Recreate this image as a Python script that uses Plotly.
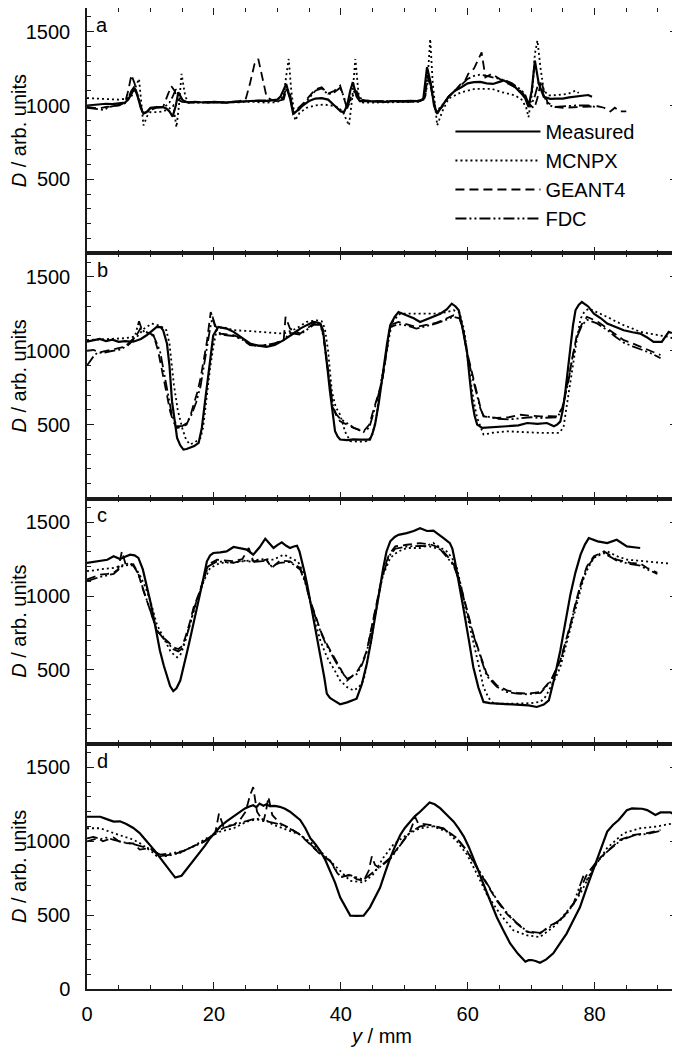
import plotly.graph_objects as go
from plotly.subplots import make_subplots

# ---------------- panel a ----------------
a_meas_x = [0, 1, 2, 3, 4, 5, 6, 6.5, 7.0, 7.5,
            8.0, 8.5, 8.9, 9.5, 10, 11, 12, 12.5, 13, 13.5,
            14.0, 14.4, 15, 15.5, 16, 17, 18, 19, 20, 21,
            22, 23, 24, 25, 26, 27, 28, 29, 30, 30.5,
            31, 31.4, 32, 32.5, 33, 34, 35, 36, 37, 38,
            39, 40, 40.5, 41, 41.5, 41.9, 42.5, 43, 44, 45,
            46, 47, 48, 49, 50, 51, 52, 53, 53.6, 54.2,
            54.7, 55.2, 56, 57, 58, 59, 60, 61, 62, 63,
            64, 65, 65.7, 66.5, 67.5, 68.5, 69.1, 69.6, 70.1, 70.6,
            71.2, 72, 73, 74, 75, 76, 77, 78, 79, 79.6]
a_meas_d = [1000, 1005, 1010, 1012, 1010, 1015, 1020, 1040, 1080, 1117,
            1060, 980, 944, 960, 985, 990, 988, 980, 960, 925,
            1000, 1090, 1040, 1025, 1020, 1025, 1022, 1020, 1025, 1022,
            1020, 1025, 1028, 1030, 1035, 1033, 1030, 1035, 1040, 1060,
            1110, 1146, 1050, 944, 960, 1000, 1030, 1047, 1050, 1040,
            1000, 960, 955, 1000, 1100, 1158, 1060, 1030, 1030, 1028,
            1030, 1025, 1030, 1028, 1030, 1032, 1030, 1040, 1259, 1150,
            1000, 944, 1000, 1060, 1100, 1124, 1150, 1158, 1160, 1150,
            1146, 1160, 1170, 1150, 1124, 1080, 1047, 989, 1100, 1304,
            1150, 1059, 1045, 1047, 1047, 1055, 1059, 1065, 1071, 1060]

a_mcnpx_x = [0, 1, 2, 3, 4, 5, 6, 7, 7.6, 8.2,
             8.6, 8.9, 9.5, 10, 11, 12, 13, 13.6, 14.1, 14.5,
             14.9, 15.5, 16, 17, 18, 20, 22, 24, 26, 28,
             30, 31, 31.4, 31.8, 32.2, 32.8, 33.5, 34.6, 36, 37.3,
             38.5, 39.5, 40.3, 41.3, 41.8, 42.3, 42.8, 43.5, 45, 47,
             49, 51, 52.5, 53.3, 53.8, 54.1, 54.5, 55.2, 56, 57,
             58, 59, 60, 61.2, 62.5, 63.8, 65.4, 66.5, 67.5, 68.5,
             69.2, 69.6, 70.2, 70.6, 71.0, 71.5, 72.0, 72.8, 74, 75.9,
             77.0, 77.5]
a_mcnpx_d = [1050, 1048, 1045, 1040, 1040, 1040, 1045, 1060, 1120, 1180,
             1000, 865, 930, 955, 955, 960, 980, 1000, 853, 1000,
             1214, 1060, 1020, 1018, 1020, 1022, 1020, 1022, 1025, 1020,
             1022, 1060, 1200, 1315, 1100, 899, 950, 984, 1000, 1007,
             1000, 990, 960, 865, 1050, 1315, 1080, 1020, 1020, 1022,
             1020, 1022, 1025, 1060, 1250, 1450, 1150, 865, 960, 1047,
             1070, 1090, 1100, 1113, 1113, 1113, 1090, 1080, 1068, 1040,
             990, 921, 1100, 1350, 1440, 1250, 1100, 1068, 1070, 1080,
             1101, 1085]

a_geant_x = [0, 1, 2, 3, 4, 5, 6, 6.5, 7.0, 7.5,
             8.0, 8.5, 8.9, 9.5, 10, 11, 12, 12.8, 13.3, 13.8,
             14.3, 15, 16, 18, 20, 22, 24, 25.0, 25.7, 26.4,
             27.0, 27.6, 28.3, 29, 30, 31, 31.4, 32, 32.5, 33,
             34, 35, 36, 37, 38, 39, 39.9, 40.5, 41, 41.6,
             42.2, 43, 45, 47, 49, 51, 52.5, 53.2, 53.7, 54.2,
             55.0, 56, 57, 58, 59, 59.6, 60.1, 61, 61.6, 62.2,
             62.8, 63.8, 65.4, 67.5, 68.6, 69.9, 70.5, 71.0, 71.6, 72.0,
             72.6, 73.8, 75, 77, 79, 80.5, 81.5, 82.5, 83.2, 84,
             85.0]
a_geant_d = [990, 985, 980, 990, 995, 1000, 1020, 1100, 1207, 1150,
             1060, 980, 935, 960, 980, 985, 990, 1080, 1130, 1100,
             1040, 1025, 1020, 1025, 1022, 1020, 1030, 1040, 1150, 1280,
             1315, 1200, 1060, 1040, 1030, 1060, 1120, 1050, 960, 970,
             1010, 1060, 1110, 1124, 1080, 1100, 1135, 1050, 980, 1060,
             1100, 1040, 1030, 1028, 1030, 1025, 1030, 1050, 1200, 1120,
             950, 990, 1060, 1100, 1150, 1169, 1214, 1250, 1300, 1360,
             1191, 1214, 1169, 1124, 1090, 1000, 980, 1050, 1169, 1100,
             1020, 990, 985, 990, 995, 995, 985, 960, 985, 960,
             960]

a_fdc_x = [0, 1, 2, 2.7, 3.5, 4, 5, 6, 6.5, 7.0,
           7.5, 8.0, 8.5, 9, 9.5, 10, 11, 12, 12.5, 13,
           13.5, 14.0, 14.5, 15, 16, 18, 20, 22, 24, 26,
           28, 30, 31, 31.5, 32, 32.5, 33, 34, 35, 36,
           37, 38, 39, 39.9, 40.5, 41, 41.8, 42.5, 43, 45,
           47, 49, 51, 52.5, 53.3, 53.8, 54.3, 55.0, 56, 57,
           58, 59, 60, 61, 62, 63, 64, 65, 66, 67,
           68, 69, 69.8, 70.5, 71.2, 72, 72.6, 73.5, 75, 77,
           79, 80.2]
a_fdc_d = [985, 980, 975, 970, 990, 995, 1000, 1015, 1050, 1100,
           1130, 1070, 990, 950, 955, 970, 985, 990, 1000, 1020,
           1060, 1110, 1070, 1035, 1022, 1020, 1022, 1020, 1025, 1030,
           1035, 1030, 1040, 1120, 1080, 960, 950, 1000, 1050, 1100,
           1115, 1075, 1090, 1120, 1060, 980, 1060, 1100, 1040, 1028,
           1030, 1025, 1030, 1028, 1060, 1180, 1120, 960, 1000, 1060,
           1100, 1140, 1180, 1200, 1210, 1200, 1190, 1180, 1170, 1150,
           1120, 1080, 990, 1050, 1160, 1070, 1010, 990, 995, 1000,
           1000, 990]

# ---------------- panel b ----------------
b_meas_x = [0, 1, 2, 3, 4, 5, 6, 7.3, 8.5, 9.4,
            10.2, 11.0, 11.6, 12.0, 12.6, 13.0, 13.4, 13.8, 14.2, 14.7,
            15.2, 15.7, 16.2, 16.9, 17.6, 18.1, 18.5, 18.9, 19.4, 19.9,
            20.7, 22, 23.1, 24.4, 25.7, 27, 28.3, 29.6, 31.0, 32.3,
            33.6, 34.7, 35.7, 36.3, 36.8, 37.2, 37.5, 37.9, 38.3, 38.7,
            39.1, 39.5, 39.9, 41, 42, 43, 44.6, 45.0, 45.4, 46.0,
            46.7, 47.3, 47.8, 48.5, 49.1, 50.4, 51.5, 52.5, 54, 55.7,
            56.7, 57.5, 58.1, 58.6, 59.2, 59.9, 60.3, 60.7, 61.1, 61.5,
            62.3, 64, 66.2, 68, 69.4, 71, 72.5, 73.6, 74.1, 74.6,
            75.0, 75.4, 75.8, 76.2, 76.6, 77.0, 77.5, 78.0, 79.0, 79.9,
            81, 82.0, 83.3, 84.6, 86, 87.2, 88.3, 89.3, 90.6, 91.7,
            92.2]
b_meas_d = [1061, 1070, 1080, 1065, 1075, 1060, 1065, 1061, 1080, 1105,
            1130, 1161, 1160, 1139, 1050, 900, 657, 520, 410, 360,
            331, 335, 343, 355, 377, 478, 620, 769, 950, 1105,
            1161, 1150, 1128, 1090, 1049, 1035, 1027, 1040, 1072, 1110,
            1150, 1175, 1195, 1190, 1184, 1140, 1038, 880, 724, 580,
            455, 420, 399, 395, 400, 398, 399, 440, 500, 650,
            881, 1050, 1173, 1230, 1262, 1240, 1220, 1195, 1220, 1251,
            1280, 1319, 1300, 1274, 1150, 993, 820, 657, 560, 500,
            478, 485, 489, 495, 511, 505, 511, 489, 500, 520,
            600, 724, 880, 1038, 1170, 1274, 1310, 1330, 1300, 1251,
            1220, 1184, 1160, 1139, 1125, 1116, 1090, 1060, 1060, 1128,
            1120]

b_mcnpx_x = [0, 2, 4, 6, 8, 9, 10.2, 11.5, 12.5, 13.0,
             13.7, 14.3, 15.0, 15.6, 16.2, 17.0, 17.9, 18.3, 18.6, 19.0,
             19.4, 20.0, 20.5, 21.5, 23.1, 25, 27.3, 29, 31.0, 33,
             34.6, 36.2, 37.0, 37.5, 38.0, 38.6, 39.2, 39.9, 40.7, 41.5,
             43, 44.1, 44.9, 45.6, 46.4, 47.2, 47.8, 48.3, 49.4, 51,
             53, 55.1, 56.5, 57.8, 58.7, 59.4, 59.9, 60.4, 61.0, 61.5,
             62.5, 64, 66.2, 68, 70, 71.5, 73, 74.4, 75.1, 75.7,
             76.2, 76.7, 77.3, 77.8, 78.4, 79.1, 80.5, 82.0, 83.3, 84.6,
             86, 87.2, 88.8, 90.4, 91.5, 92.5]
b_mcnpx_d = [1072, 1075, 1080, 1085, 1100, 1150, 1184, 1170, 1140, 1050,
             769, 600, 478, 400, 366, 380, 410, 480, 590, 740,
             881, 1050, 1150, 1160, 1139, 1135, 1128, 1120, 1116, 1150,
             1195, 1206, 1200, 1150, 1000, 724, 620, 567, 450, 388,
             385, 388, 420, 545, 800, 993, 1130, 1206, 1251, 1252,
             1250, 1251, 1260, 1274, 1260, 1150, 1000, 814, 650, 545,
             433, 445, 455, 450, 448, 444, 445, 444, 480, 657,
             800, 948, 1100, 1217, 1265, 1285, 1260, 1229, 1200, 1173,
             1150, 1128, 1115, 1105, 1095, 1083]

b_geant_x = [0, 1, 2, 3, 4, 5, 6.3, 7.5, 8.4, 9.2,
             10.5, 11.2, 12.0, 12.6, 13.1, 13.6, 14.2, 15.0, 15.7, 16.3,
             16.8, 17.4, 17.9, 18.4, 18.9, 19.5, 20.2, 21.0, 22, 23.1,
             24.5, 25.7, 27, 28.3, 29.6, 31.0, 31.3, 32.0, 33.6, 35.7,
             36.8, 37.3, 37.8, 38.3, 38.8, 39.3, 39.9, 41, 42.0, 43.6,
             44.5, 45.1, 45.8, 46.5, 47.2, 47.8, 49.1, 50.5, 51.9, 53.5,
             55.1, 57.8, 58.7, 59.3, 59.9, 60.7, 61.5, 62.0, 62.5, 64.6,
             66.5, 68.3, 70, 71.5, 73, 74.1, 74.9, 75.4, 75.9, 76.5,
             77.2, 78.0, 78.8, 80.4, 82.0, 83.3, 84.6, 86, 87.2, 88.8,
             90.4]
b_geant_d = [1000, 1005, 990, 1000, 1010, 1020, 1030, 1080, 1150, 1130,
             1105, 1000, 814, 700, 590, 520, 478, 485, 500, 560,
             635, 720, 814, 930, 1061, 1262, 1173, 1116, 1110, 1105,
             1080, 1038, 1035, 1038, 1050, 1072, 1229, 1150, 1116, 1184,
             1180, 1100, 926, 780, 612, 560, 522, 500, 478, 455,
             500, 590, 700, 791, 980, 1173, 1195, 1180, 1161, 1175,
             1190, 1240, 1230, 1150, 993, 850, 702, 620, 556, 545,
             550, 567, 560, 556, 558, 556, 612, 700, 814, 960,
             1105, 1180, 1229, 1200, 1150, 1110, 1072, 1050, 1027, 1000,
             971]

b_fdc_x = [0, 0.5, 1, 1.7, 2.5, 3.5, 4.5, 5.5, 6.3, 7.5,
           8.2, 8.6, 9.2, 10.5, 11.5, 12.2, 12.8, 13.4, 14.2, 15.0,
           15.7, 16.5, 17.2, 17.9, 18.4, 18.9, 19.4, 19.8, 20.3, 21.0,
           22, 23.1, 24.5, 25.7, 27, 28.3, 29.6, 31.0, 32.0, 33.6,
           35.7, 36.8, 37.3, 37.8, 38.3, 38.8, 39.3, 39.9, 41, 42.0,
           43.6, 44.5, 45.1, 45.8, 46.5, 47.2, 47.8, 49.1, 50.5, 51.9,
           53.5, 55.1, 57.8, 58.7, 59.3, 59.9, 60.7, 61.5, 62.0, 62.5,
           64.6, 66.5, 68.3, 70, 71.5, 73, 74.1, 74.9, 75.4, 75.9,
           76.5, 77.2, 78.0, 78.8, 80.4, 82.0, 83.3, 84.6, 86, 87.2,
           88.8, 90.4]
b_fdc_d = [900, 930, 960, 990, 985, 995, 1000, 1010, 1040, 1090,
           1200, 1150, 1120, 1100, 1000, 850, 700, 560, 490, 490,
           510, 570, 650, 760, 880, 1020, 1150, 1230, 1140, 1110,
           1105, 1100, 1075, 1040, 1030, 1040, 1050, 1072, 1120, 1110,
           1175, 1175, 1090, 926, 760, 620, 570, 540, 510, 480,
           450, 480, 570, 680, 790, 990, 1160, 1180, 1170, 1150,
           1170, 1185, 1230, 1220, 1140, 980, 830, 690, 610, 560,
           540, 535, 545, 550, 545, 545, 550, 600, 690, 800,
           950, 1090, 1170, 1210, 1185, 1140, 1095, 1055, 1030, 1010,
           985, 950]

# ---------------- panel c ----------------
c_meas_x = [0, 1, 2.1, 3.2, 4.2, 5.2, 6.0, 6.8, 7.5, 8.1,
            8.8, 9.4, 10.0, 10.5, 11.0, 11.5, 12.1, 12.6, 13.1, 13.6,
            14.1, 14.7, 15.2, 15.7, 16.2, 16.8, 17.3, 17.8, 18.4, 18.9,
            19.4, 19.9, 21.0, 22.0, 23.1, 24.2, 25.2, 26.2, 27.2, 28.1,
            28.8, 29.4, 30.0, 30.7, 31.4, 32.0, 32.6, 33.1, 33.5, 33.9,
            34.3, 34.7, 35.2, 35.7, 36.3, 37.0, 37.4, 37.8, 38.3, 38.9,
            39.9, 41.0, 42.5, 43.3, 44.1, 44.8, 45.4, 46.0, 46.7, 47.2,
            47.8, 48.5, 49.1, 50.4, 51.5, 52.5, 53.6, 54.6, 55.4, 56.2,
            57.2, 57.6, 58.0, 58.7, 59.4, 60.2, 60.9, 61.7, 62.5, 63.5,
            65.1, 66.7, 68.3, 69.6, 70.9, 72.0, 72.8, 73.7, 74.6, 75.4,
            76.2, 77.0, 77.8, 78.5, 79.1, 80.5, 82.0, 83.5, 85.1, 86.2,
            87.2]
c_meas_d = [1224, 1230, 1235, 1245, 1269, 1250, 1265, 1280, 1275, 1258,
            1180, 1078, 960, 854, 740, 630, 530, 451, 390, 356,
            375, 428, 510, 607, 700, 809, 910, 1011, 1130, 1235,
            1275, 1291, 1295, 1302, 1332, 1320, 1314, 1280, 1330, 1388,
            1350, 1325, 1345, 1363, 1340, 1325, 1335, 1340, 1300, 1235,
            1160, 1078, 960, 854, 700, 563, 450, 339, 310, 294,
            267, 280, 305, 400, 540, 700, 854, 1030, 1190, 1300,
            1370, 1400, 1414, 1426, 1440, 1459, 1440, 1442, 1420, 1392,
            1358, 1320, 1235, 1080, 899, 700, 518, 380, 283, 275,
            272, 270, 267, 260, 249, 265, 294, 450, 630, 820,
            1011, 1160, 1280, 1350, 1392, 1370, 1358, 1381, 1336, 1330,
            1325]

c_mcnpx_x = [0, 1, 2, 3, 4.2, 5.5, 6.8, 7.6, 8.3, 9.2,
             10.0, 11.0, 11.8, 12.6, 13.1, 13.6, 14.2, 14.7, 15.2, 15.7,
             16.2, 16.8, 17.3, 17.9, 18.4, 19.4, 21.0, 23.1, 24.7, 26.2,
             27.8, 29.4, 31.0, 32.5, 33.3, 34.1, 34.8, 35.4, 36.1, 36.8,
             37.5, 38.1, 39.0, 39.9, 41.0, 42.0, 42.8, 43.6, 44.4, 45.1,
             45.8, 46.5, 47.2, 47.8, 49.0, 50.4, 52.5, 54.6, 55.6, 56.7,
             57.5, 58.3, 59.0, 59.6, 60.3, 60.9, 61.7, 62.5, 63.3, 64.1,
             66.2, 68.3, 70.0, 71.5, 72.3, 73.1, 73.9, 74.6, 75.6, 76.7,
             77.5, 78.3, 79.1, 79.9, 81.0, 82.0, 83.5, 85.1, 86.7, 88.3,
             90.0, 91.7]
c_mcnpx_d = [1168, 1175, 1180, 1185, 1190, 1205, 1224, 1190, 1145, 1060,
             966, 809, 740, 675, 630, 607, 585, 600, 653, 730,
             809, 890, 966, 1040, 1101, 1190, 1224, 1228, 1235, 1246,
             1250, 1246, 1280, 1250, 1230, 1157, 1040, 922, 800, 697,
             620, 563, 500, 428, 383, 361, 380, 428, 600, 787,
             960, 1123, 1200, 1258, 1300, 1325, 1325, 1358, 1330, 1302,
             1260, 1190, 1060, 922, 800, 697, 540, 383, 310, 272,
             270, 272, 275, 283, 320, 383, 450, 518, 680, 854,
             1000, 1123, 1200, 1258, 1290, 1302, 1270, 1246, 1240, 1235,
             1228, 1220]

c_geant_x = [0, 1, 2.1, 3.2, 4.2, 4.9, 5.5, 6.1, 7.3, 8.1,
             8.9, 10.0, 11.0, 12.0, 12.8, 13.6, 14.4, 15.0, 15.5, 16.2,
             16.8, 17.8, 18.5, 19.1, 20.5, 22.0, 23.1, 24.5, 25.5, 26.2,
             27.3, 28.3, 29.1, 30.4, 32.0, 33.6, 34.4, 35.2, 36.0, 36.8,
             37.6, 38.4, 39.2, 39.9, 41.0, 42.5, 43.3, 44.1, 44.9, 45.7,
             46.7, 47.6, 48.6, 50.4, 52.5, 54.1, 55.7, 56.8, 57.8, 58.6,
             59.4, 60.2, 60.9, 62.0, 63.0, 64.6, 66.2, 67.8, 69.4, 71.5,
             73.1, 74.6, 75.4, 76.2, 77.0, 77.8, 78.8, 79.9, 81.5, 83.5,
             85.7, 87.2, 88.3, 89.9]
c_geant_d = [1112, 1130, 1145, 1150, 1157, 1180, 1302, 1213, 1215, 1150,
             1034, 899, 765, 720, 690, 653, 641, 660, 720, 820,
             922, 1034, 1130, 1213, 1246, 1240, 1235, 1250, 1325, 1235,
             1240, 1246, 1190, 1240, 1235, 1190, 1100, 966, 870, 765,
             690, 630, 570, 518, 428, 484, 540, 630, 800, 966,
             1168, 1280, 1336, 1347, 1358, 1350, 1325, 1270, 1213, 1120,
             989, 860, 742, 600, 473, 395, 361, 345, 339, 350,
             428, 563, 680, 809, 950, 1078, 1200, 1269, 1302, 1246,
             1224, 1220, 1190, 1157]

c_fdc_x = [0, 1, 2.1, 3.2, 4.2, 5.5, 6.5, 7.3, 8.1, 8.9,
           10.0, 11.0, 12.0, 12.8, 13.6, 14.4, 15.0, 15.5, 16.2, 16.8,
           17.8, 18.5, 19.1, 20.5, 22.0, 23.1, 24.5, 26.2, 27.3, 28.3,
           29.1, 30.4, 32.0, 33.6, 34.4, 35.2, 36.0, 36.8, 37.6, 38.4,
           39.2, 39.9, 41.0, 42.5, 43.3, 44.1, 44.9, 45.7, 46.7, 47.6,
           48.6, 50.4, 52.5, 54.1, 55.7, 56.8, 57.8, 58.6, 59.4, 60.2,
           60.9, 62.0, 63.0, 64.6, 66.2, 67.8, 69.4, 71.5, 73.1, 74.6,
           75.4, 76.2, 77.0, 77.8, 78.8, 79.9, 81.5, 83.5, 85.7, 87.2,
           88.3, 89.9]
c_fdc_d = [1100, 1115, 1130, 1140, 1150, 1200, 1210, 1205, 1150, 1040,
           905, 770, 715, 680, 640, 625, 645, 700, 800, 905,
           1030, 1120, 1200, 1235, 1230, 1225, 1240, 1230, 1235, 1240,
           1200, 1225, 1230, 1180, 1090, 960, 860, 760, 680, 620,
           560, 500, 440, 470, 530, 620, 790, 950, 1150, 1270,
           1320, 1335, 1340, 1335, 1315, 1260, 1205, 1110, 980, 850,
           735, 590, 460, 385, 350, 340, 335, 345, 420, 555,
           670, 800, 940, 1070, 1190, 1260, 1290, 1240, 1215, 1205,
           1180, 1150]

# ---------------- panel d ----------------
d_meas_x = [0, 1, 2.1, 3.1, 4.2, 5.2, 6.2, 7.3, 8.3, 9.1,
            9.9, 10.7, 11.5, 12.3, 13.1, 13.9, 14.9, 15.5, 16.2, 17.0,
            17.8, 18.6, 19.4, 20.2, 21.0, 22.0, 23.1, 24.0, 24.9, 25.6,
            26.2, 26.7, 27.2, 27.8, 28.3, 28.8, 29.6, 30.4, 31.2, 32.0,
            32.8, 33.6, 34.4, 35.2, 36.0, 36.8, 37.6, 38.3, 39.1, 39.9,
            40.7, 41.5, 42.5, 43.6, 44.6, 45.4, 46.2, 47.0, 47.8, 48.6,
            49.4, 50.1, 50.9, 51.7, 52.5, 53.3, 54.0, 54.8, 55.7, 56.7,
            57.8, 58.6, 59.4, 60.2, 60.9, 61.7, 62.5, 63.5, 64.6, 65.6,
            66.7, 67.9, 69.1, 69.6, 70.1, 70.7, 71.4, 72.4, 73.5, 74.5,
            75.6, 76.6, 77.7, 78.8, 79.9, 81.0, 82.0, 82.9, 83.8, 84.5,
            85.1, 85.9, 86.7, 87.5, 88.3, 89.0, 89.6, 90.4, 91.2, 92.0,
            92.7]
d_meas_d = [1166, 1168, 1166, 1150, 1133, 1135, 1117, 1090, 1055, 1015,
            978, 935, 889, 845, 800, 754, 767, 800, 834, 880,
            922, 970, 1021, 1060, 1100, 1135, 1166, 1195, 1222, 1235,
            1244, 1230, 1255, 1240, 1250, 1238, 1240, 1233, 1220, 1200,
            1175, 1144, 1090, 1021, 980, 932, 870, 800, 720, 620,
            560, 497, 495, 497, 553, 620, 687, 790, 888, 970,
            1044, 1090, 1133, 1170, 1200, 1235, 1262, 1250, 1222, 1180,
            1133, 1085, 1032, 960, 888, 800, 709, 600, 486, 400,
            308, 240, 185, 195, 196, 190, 178, 200, 241, 305,
            375, 460, 553, 690, 821, 950, 1066, 1110, 1144, 1180,
            1211, 1222, 1222, 1220, 1211, 1195, 1178, 1195, 1195, 1195,
            1178]

d_mcnpx_x = [0, 2.1, 4.2, 5.8, 7.3, 8.4, 9.4, 10.2, 11.0, 12.6,
             14.7, 16.8, 18.9, 21.0, 23.1, 25.2, 27.3, 28.3, 29.4, 31.5,
             33.6, 35.7, 37.8, 39.9, 41.5, 43.6, 45.1, 46.7, 48.3, 50.4,
             52.5, 54.6, 56.7, 58.3, 59.9, 61.5, 63.0, 65.1, 67.2, 69.4,
             71.4, 73.5, 75.6, 77.7, 79.9, 82.0, 84.6, 87.2, 89.8, 92.5]
d_mcnpx_d = [1088, 1088, 1055, 1035, 1011, 985, 955, 930, 900, 900,
             922, 967, 1021, 1066, 1088, 1133, 1155, 1140, 1111, 1077,
             1044, 978, 889, 800, 732, 721, 776, 888, 978, 1044,
             1088, 1100, 1066, 1000, 910, 776, 642, 508, 397, 363,
             352, 419, 508, 642, 821, 955, 1055, 1088, 1100, 1122]

d_geant_x = [0, 0.8, 1.7, 2.5, 3.4, 4.2, 5.0, 5.8, 7.3, 8.3,
             9.9, 11.5, 13.6, 15.2, 16.8, 18.4, 19.6, 20.2, 20.8, 21.5,
             23.1, 24.1, 25.0, 25.7, 26.2, 26.8, 27.8, 28.2, 28.6, 29.2,
             30.4, 32.0, 33.6, 35.2, 36.8, 38.3, 39.9, 41.5, 42.5, 43.6,
             44.4, 44.9, 45.4, 46.0, 47.8, 49.4, 50.9, 51.4, 51.7, 52.2,
             54.0, 56.2, 58.3, 59.9, 61.5, 63.0, 64.6, 66.2, 67.8, 69.4,
             71.4, 73.0, 74.6, 76.7, 77.5, 78.0, 78.8, 80.4, 82.0, 84.1,
             86.2, 88.3, 90.4]
d_geant_d = [999, 1010, 1021, 1000, 1011, 1026, 1000, 988, 985, 944,
             955, 900, 911, 933, 967, 999, 1030, 1050, 1188, 1100,
             1111, 1144, 1200, 1311, 1366, 1200, 1133, 1200, 1300, 1178,
             1122, 1088, 1044, 978, 911, 866, 754, 776, 743, 732,
             800, 898, 840, 821, 888, 978, 1066, 1120, 1166, 1122,
             1111, 1088, 1021, 933, 821, 709, 598, 508, 441, 386,
             375, 430, 464, 575, 640, 700, 776, 866, 933, 1011,
             1044, 1055, 1077]

d_fdc_x = [0, 1.0, 2.1, 3.0, 4.2, 5.5, 7.0, 8.5, 9.9, 11.5,
           13.6, 15.2, 16.8, 18.4, 20.0, 21.5, 23.1, 24.7, 26.2, 27.8,
           29.4, 30.4, 32.0, 33.6, 35.2, 36.8, 38.3, 39.9, 41.5, 43.6,
           45.4, 47.8, 49.4, 50.9, 52.5, 54.0, 56.2, 58.3, 59.9, 61.5,
           63.0, 64.6, 66.2, 67.8, 69.4, 71.4, 73.0, 74.6, 76.7, 78.2,
           78.8, 80.4, 82.0, 84.1, 86.2, 88.3, 90.4]
d_fdc_d = [1020, 1030, 1015, 1025, 1010, 995, 985, 965, 950, 910,
           920, 935, 965, 995, 1050, 1090, 1110, 1130, 1150, 1140,
           1125, 1115, 1085, 1045, 980, 915, 870, 760, 770, 740,
           800, 880, 975, 1060, 1100, 1110, 1085, 1020, 935, 825,
           715, 605, 515, 445, 390, 380, 420, 470, 580, 760,
           740, 860, 930, 1005, 1040, 1050, 1070]

panel_labels = ['a', 'b', 'c', 'd']
series_names = ['Measured', 'MCNPX', 'GEANT4', 'FDC']
panels = [
    [(a_meas_x, a_meas_d), (a_mcnpx_x, a_mcnpx_d), (a_geant_x, a_geant_d), (a_fdc_x, a_fdc_d)],
    [(b_meas_x, b_meas_d), (b_mcnpx_x, b_mcnpx_d), (b_geant_x, b_geant_d), (b_fdc_x, b_fdc_d)],
    [(c_meas_x, c_meas_d), (c_mcnpx_x, c_mcnpx_d), (c_geant_x, c_geant_d), (c_fdc_x, c_fdc_d)],
    [(d_meas_x, d_meas_d), (d_mcnpx_x, d_mcnpx_d), (d_geant_x, d_geant_d), (d_fdc_x, d_fdc_d)],
]

line_styles = {
    'Measured': dict(color='black', width=2.2, dash='solid'),
    'MCNPX': dict(color='black', width=1.8, dash='2px,3px'),
    'GEANT4': dict(color='black', width=1.8, dash='9px,5px'),
    'FDC': dict(color='black', width=1.8, dash='11px,3px,2px,3px,2px,3px'),
}

FONT = 'Liberation Sans, Arial, sans-serif'
AX = '#1a1a1a'

fig = make_subplots(rows=4, cols=1, shared_xaxes=True, vertical_spacing=0)

for i, series in enumerate(panels):
    for name, (xs, ds) in zip(series_names, series):
        assert len(xs) == len(ds), (panel_labels[i], name, len(xs), len(ds))
        fig.add_trace(go.Scatter(x=xs, y=ds, mode='lines', name=name,
                                 line=line_styles[name], showlegend=(i == 0)),
                      row=i + 1, col=1)

    fig.add_annotation(x=2.4, y=1545, text=panel_labels[i], showarrow=False,
                       xanchor='center', yanchor='middle',
                       font=dict(size=20, color='black', family=FONT),
                       row=i + 1, col=1)

    fig.update_yaxes(range=[0, 1660], tickmode='linear', tick0=0, dtick=500,
                     labelalias={} if i == 3 else {'0': ''},
                     ticks='inside', ticklen=7, tickwidth=1.2, tickcolor=AX,
                     minor=dict(ticks='inside', dtick=100, tick0=0, ticklen=4, tickcolor=AX),
                     showline=True, linecolor=AX, linewidth=1.5, mirror='ticks',
                     showgrid=False, zeroline=False, automargin=False,
                     ticklabelstandoff=11,
                     tickfont=dict(size=20, color='black', family=FONT),
                     title=dict(text='<i>D</i> / arb. units', standoff=3,
                                font=dict(size=20, color='black', family=FONT)),
                     row=i + 1, col=1)

    fig.update_xaxes(range=[0, 93], tickmode='linear', tick0=0, dtick=20,
                     ticks='inside', ticklen=7, tickwidth=1.2, tickcolor=AX,
                     minor=dict(ticks='inside', dtick=5, tick0=0, ticklen=4, tickcolor=AX),
                     showline=True, linecolor=AX, linewidth=1.5, mirror='ticks',
                     showgrid=False, zeroline=False, automargin=False,
                     ticklabelstandoff=6,
                     tickfont=dict(size=20, color='black', family=FONT),
                     row=i + 1, col=1)

fig.update_xaxes(title=dict(text='<i>y</i> / mm', standoff=2,
                            font=dict(size=20, color='black', family=FONT)),
                 row=4, col=1)

# the page body adds an 8 px offset, so the figure is sized to fit inside it
fig.update_layout(
    width=672, height=1042,
    margin=dict(l=79, r=3, t=0, b=61),
    paper_bgcolor='white', plot_bgcolor='white',
    font=dict(family=FONT, size=20, color='black'),
    showlegend=True,
    legend=dict(x=0.616, y=0.894, xanchor='left', yanchor='top',
                bgcolor='rgba(0,0,0,0)', itemwidth=85, tracegroupgap=0,
                font=dict(size=20, color='black', family=FONT)),
)

fig.write_html('out.html')
